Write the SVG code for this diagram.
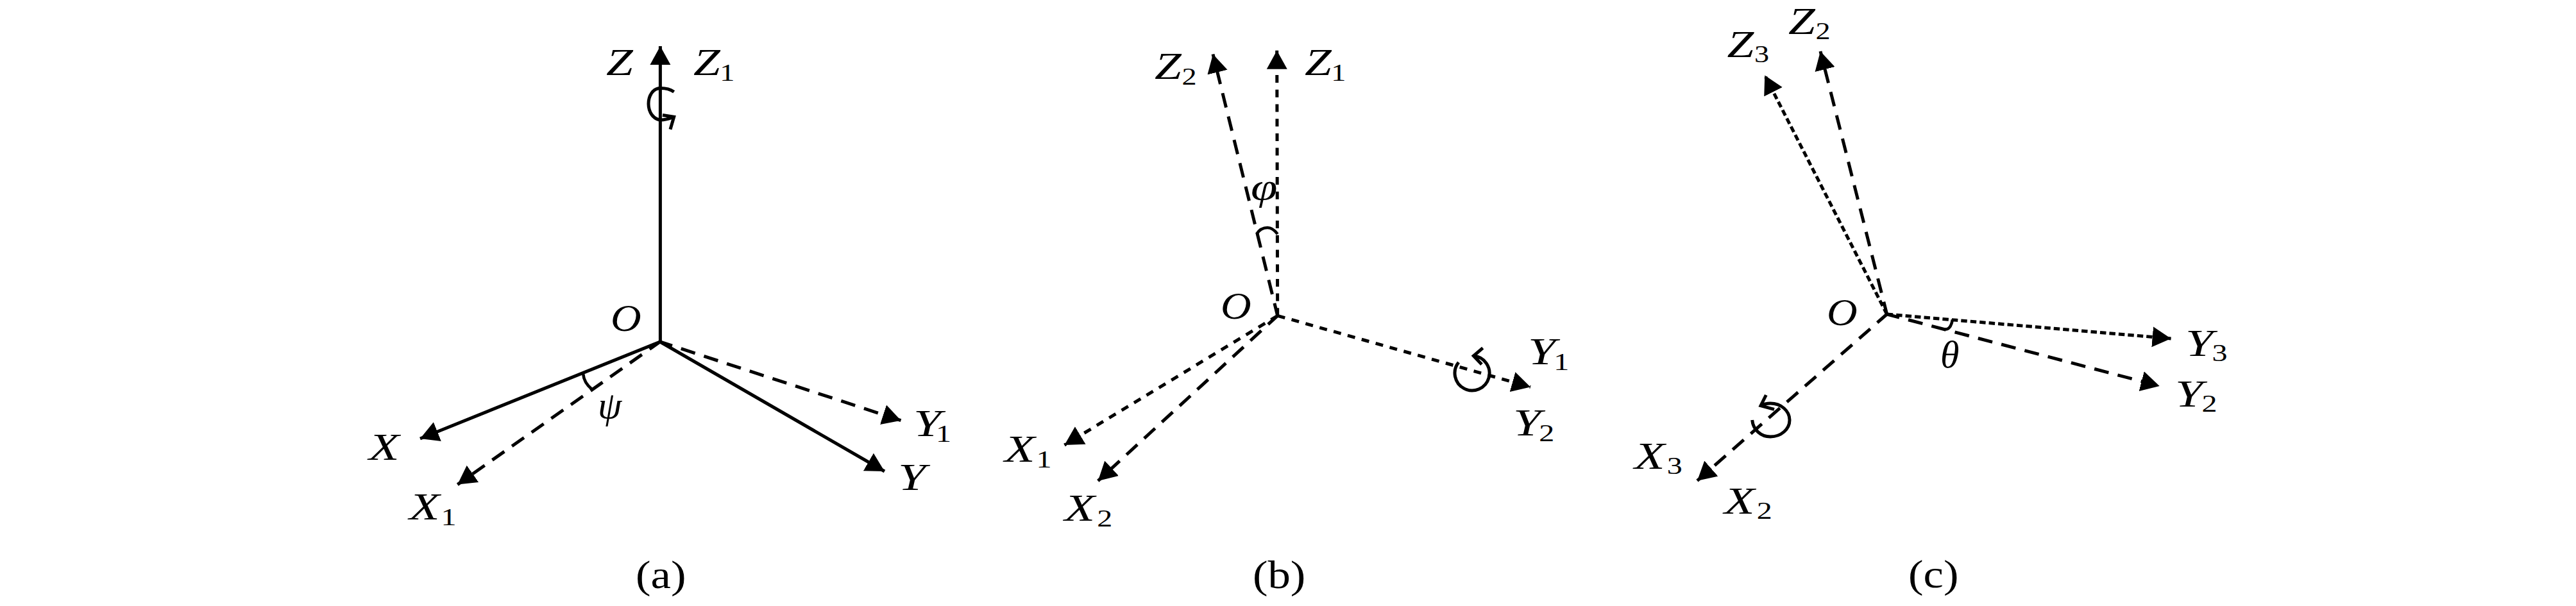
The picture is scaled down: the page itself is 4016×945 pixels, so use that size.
<svg xmlns="http://www.w3.org/2000/svg" width="4016" height="945" viewBox="0 0 4016 945">
<style>
.ax{fill:none;stroke:#000;stroke-width:5;marker-end:url(#h)}
.long{stroke-dasharray:23 14.5;stroke-dashoffset:3}
.short{stroke-dasharray:12 10.7}
.dot{stroke-dasharray:9.5 5}
.rot{fill:none;stroke:#000;stroke-width:5}
.ang{fill:none;stroke:#000;stroke-width:4.6}
text{font-family:"Liberation Serif",serif;fill:#000}
.m{font-size:60px;font-style:italic}
.g{font-size:60px;font-style:italic}
.s{font-size:37px;font-style:normal}
.c{font-size:62px}
</style>
<defs>
<marker id="h" markerUnits="userSpaceOnUse" markerWidth="30" markerHeight="34" refX="29" refY="16.5" orient="auto"><path d="M0 0.5L29 16.5L0 32.5Z" fill="#000"/></marker>
</defs>
<rect width="4016" height="945" fill="#fff"/>
<g id="connectors">
<g id="connectors-a">
<path class="ax" d="M1029.4 533V72"/>
<path class="ax" d="M1029 533L655 684"/>
<path class="ax" d="M1029 533L1379 735"/>
<path class="ax long" d="M1029 533L713.3 755.6"/>
<path class="ax long" d="M1029 533L1404.6 655.7"/>
<path class="rot" d="M1050.7 143.3C1044 138.5 1037 137.5 1030 137.5C1018 137.5 1011 149 1011 162C1011 175 1019 187 1031 187C1038 187 1044 184.5 1050.7 182.3M1033 179.5L1050.7 182.3L1045 201.7"/>
<path class="ang" d="M909.3 583.3Q910 596 922.7 607"/>
</g>
<g id="connectors-b">
<path class="ax short" d="M1991.7 492.3L1990.7 78.8"/>
<path class="ax long" d="M1991.7 492.3L1891 84.5"/>
<path class="ax short" d="M1991.7 492.3L1659.5 694"/>
<path class="ax long" d="M1991.7 492.3L1711.8 749.9"/>
<path class="ax short" d="M1991.7 492.3L2386 603.5"/>
<path class="rot" d="M2274 565A27 27 0 1 0 2297.3 555M2311.7 542.7L2297.3 555L2310 568.3"/>
<path class="ang" d="M1959 365C1964 357 1970 355 1976 355C1983 355 1988 360 1991.7 365"/>
</g>
<g id="connectors-c">
<path class="ax dot" d="M2941.7 490L2751.3 117.4"/>
<path class="ax long" d="M2941.7 490L2838 80"/>
<path class="ax dot" d="M2941.7 490L3384.6 527.9"/>
<path class="ax long" d="M2941.7 490L3366.7 602"/>
<path class="ax long" d="M2941.7 490L2646 749.7"/>
<path class="rot" d="M2731.7 655C2733 670 2745 681 2760 681C2777 681 2790 669 2790 655C2790 641 2777 629 2760 629C2755 629 2750 630 2745 632.7M2753.3 616L2745 632.7L2766 638.3"/>
<path class="ang" d="M3031.7 513.3Q3041 515 3044 498.3"/>
</g>
</g>
<g id="labels-a">
<text id="a-Z" class="m" transform="translate(945 116.7) scale(1.25 1)">Z</text>
<text id="a-Z1" class="m" transform="translate(1081 116.7) scale(1.25 1)">Z<tspan class="s" x="33" y="9">1</tspan></text>
<text id="a-O" class="m" transform="translate(952 516) scale(1.1 1)">O</text>
<text id="a-X" class="m" transform="translate(575 717) scale(1.3 1)">X</text>
<text id="a-X1" class="m" transform="translate(638 809.6) scale(1.3 1)">X<tspan class="s" x="38" y="9">1</tspan></text>
<text id="a-Y" class="m" transform="translate(1400 763.6) scale(1.3 1)">Y</text>
<text id="a-Y1" class="m" transform="translate(1424 680) scale(1.3 1)">Y<tspan class="s" x="27" y="9">1</tspan></text>
<text id="a-psi" class="g" transform="translate(932 651.7)">ψ</text>
<text id="a-cap" class="c" transform="translate(991 917) scale(1.14 1)">(a)</text>
</g>
<g id="labels-b">
<text id="b-Z2" class="m" transform="translate(1800 123) scale(1.25 1)">Z<tspan class="s" x="34" y="9">2</tspan></text>
<text id="b-Z1" class="m" transform="translate(2034 117) scale(1.25 1)">Z<tspan class="s" x="33" y="9">1</tspan></text>
<text id="b-phi" class="g" transform="translate(1950 311) scale(1.25 1)">φ</text>
<text id="b-O" class="m" transform="translate(1903 496.7) scale(1.1 1)">O</text>
<text id="b-X1" class="m" transform="translate(1566 720) scale(1.3 1)">X<tspan class="s" x="38" y="9">1</tspan></text>
<text id="b-X2" class="m" transform="translate(1659.5 812.4) scale(1.3 1)">X<tspan class="s" x="39" y="9">2</tspan></text>
<text id="b-Y1" class="m" transform="translate(2382 568) scale(1.3 1)">Y<tspan class="s" x="31" y="9">1</tspan></text>
<text id="b-Y2" class="m" transform="translate(2359 679) scale(1.3 1)">Y<tspan class="s" x="31" y="9">2</tspan></text>
<text id="b-cap" class="c" transform="translate(1953 917) scale(1.14 1)">(b)</text>
</g>
<g id="labels-c">
<text id="c-Z3" class="m" transform="translate(2692.6 89) scale(1.25 1)">Z<tspan class="s" x="34" y="8">3</tspan></text>
<text id="c-Z2" class="m" transform="translate(2788 53.4) scale(1.25 1)">Z<tspan class="s" x="34" y="8">2</tspan></text>
<text id="c-O" class="m" transform="translate(2848 506.7) scale(1.1 1)">O</text>
<text id="c-theta" class="g" transform="translate(3025 572.7)">θ</text>
<text id="c-Y3" class="m" transform="translate(3407 554.6) scale(1.3 1)">Y<tspan class="s" x="32" y="8">3</tspan></text>
<text id="c-Y2" class="m" transform="translate(3391 633.5) scale(1.3 1)">Y<tspan class="s" x="32" y="8">2</tspan></text>
<text id="c-X3" class="m" transform="translate(2548 731.3) scale(1.3 1)">X<tspan class="s" x="39" y="8">3</tspan></text>
<text id="c-X2" class="m" transform="translate(2688 800.7) scale(1.3 1)">X<tspan class="s" x="39" y="8">2</tspan></text>
<text id="c-cap" class="c" transform="translate(2975 916) scale(1.14 1)">(c)</text>
</g>
</svg>
